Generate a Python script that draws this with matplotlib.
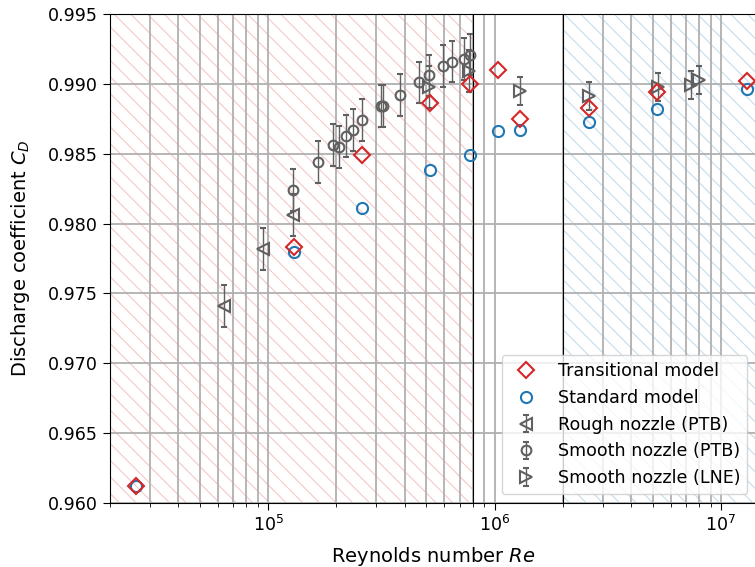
import numpy as np
from matplotlib import pyplot as plt

# Simulation results
re_model = [2.6e4, 1.3e5, 2.6e5, 5.2e5, 7.8e5, 1.04e6, 1.3e6, 2.6e6, 5.2e6, 1.3e7]
cd_transitional = [0.9612, 0.9783, 0.9849, 0.9886, 0.9900, 0.9910, 0.9875, 0.9883, 0.9894, 0.9902]
cd_standard = [0.9612, 0.9780, 0.9811, 0.9838, 0.9849, 0.9866, 0.9867, 0.9873, 0.9882, 0.9896]

# Experiments
re_rough_ptb = [6.35e4, 9.5e4, 1.285e5]
cd_rough_ptb = [0.9741, 0.9782, 0.9806]
err_rough_ptb = [0.0015, 0.0015, 0.0015]

re_smooth_ptb = [1.29e5, 1.667e5, 1.94e5, 2.06e5, 2.2e5, 2.36e5, 2.6e5, 3.15e5, 3.22e5,
                 3.8e5, 4.62e5, 5.14e5, 5.94e5, 6.45e5, 7.31e5, 7.77e5]
cd_smooth_ptb = [0.9824, 0.9844, 0.9856, 0.9855, 0.9863, 0.9867, 0.9874, 0.9884, 0.9884,
                 0.9892, 0.9901, 0.9906, 0.9913, 0.9916, 0.9918, 0.9921]
err_smooth_ptb = [0.0015] * len(re_smooth_ptb)

re_smooth_lne = [5.14e5, 7.7e5, 1.3e6, 2.62e6, 5.27e6, 7.35e6, 8.02e6]
cd_smooth_lne = [0.9898, 0.9909, 0.9895, 0.9891, 0.9898, 0.9899, 0.9903]
err_smooth_lne = [0.0015, 0.0015, 0.001, 0.001, 0.001, 0.001, 0.001]

plt.rcParams['hatch.linewidth'] = 0.8

fig = plt.figure(figsize=(7.55, 5.67), dpi=100)
ax = fig.add_axes([110 / 755, 64 / 567, 646 / 755, 489 / 567])

xmin, xmax = 2e4, 1.427e7
ax.axvspan(xmin, 8e5, facecolor='none', edgecolor='tab:red', alpha=0.25, hatch='\\\\', lw=0, zorder=0)
ax.axvspan(2e6, xmax, facecolor='none', edgecolor='tab:blue', alpha=0.25, hatch='\\\\', lw=0, zorder=0)
ax.axvline(8e5, color='k', lw=0.8)
ax.axvline(2e6, color='k', lw=0.8)

gray = '#606060'
ax.plot(re_model, cd_transitional, 'D', mfc='none', mec='tab:red', ms=8, mew=1.5,
        label='Transitional model', zorder=5)
ax.plot(re_model, cd_standard, 'o', mfc='none', mec='tab:blue', ms=8, mew=1.5,
        label='Standard model', zorder=4)
ax.errorbar(re_rough_ptb, cd_rough_ptb, yerr=err_rough_ptb, fmt='<', mfc='none', mec=gray,
            ecolor=gray, ms=8, mew=1.5, elinewidth=1, capsize=2, label='Rough nozzle (PTB)')
ax.errorbar(re_smooth_ptb, cd_smooth_ptb, yerr=err_smooth_ptb, fmt='o', mfc='none', mec=gray,
            ecolor=gray, ms=7, mew=1.5, elinewidth=1, capsize=2, label='Smooth nozzle (PTB)')
ax.errorbar(re_smooth_lne, cd_smooth_lne, yerr=err_smooth_lne, fmt='>', mfc='none', mec=gray,
            ecolor=gray, ms=8, mew=1.5, elinewidth=1, capsize=2, label='Smooth nozzle (LNE)')

ax.set_xscale('log')
ax.set_xlim(xmin, xmax)
ax.set_ylim(0.960, 0.995)
ax.set_yticks(np.arange(0.960, 0.9951, 0.005))
ax.grid(True, which='major', axis='both', color='#b0b0b0', lw=1.3, zorder=0.5)
ax.grid(True, which='minor', axis='x', color='#b0b0b0', lw=1.3, zorder=0.5)
ax.tick_params(which='major', labelsize=12.6, length=5)
ax.tick_params(which='minor', length=3)

ax.set_xlabel('Reynolds number $Re$', fontsize=14, labelpad=7)
ax.set_ylabel('Discharge coefficient $C_D$', fontsize=14, labelpad=12)

ax.legend(loc='lower right', fontsize=12.6)

fig.savefig('out.png', dpi=100)
